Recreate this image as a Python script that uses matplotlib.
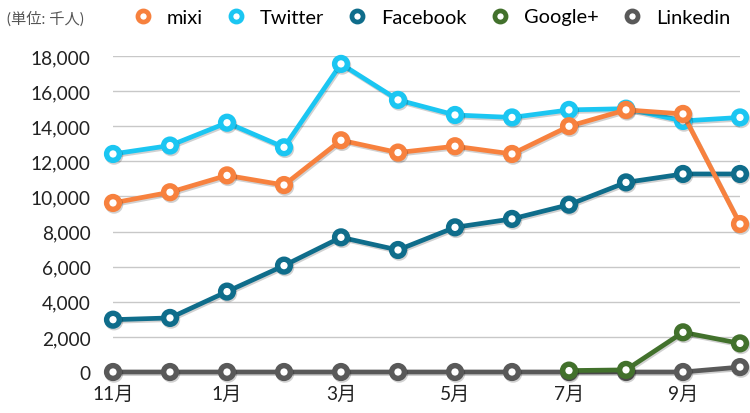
import matplotlib
matplotlib.use("Agg")
import matplotlib.pyplot as plt
from matplotlib.lines import Line2D
import matplotlib.patheffects as pe
import numpy as np

plt.rcParams['font.family'] = ['Lato', 'Noto Sans CJK JP', 'DejaVu Sans']

months = ["11月", "12月", "1月", "2月", "3月", "4月", "5月", "6月", "7月", "8月", "9月", "10月"]
tick_labels = ["11月", "", "1月", "", "3月", "", "5月", "", "7月", "", "9月", ""]

mixi = [9630, 10240, 11200, 10650, 13200, 12500, 12860, 12420, 14000, 14930, 14700, 8430]
twitter = [12420, 12900, 14200, 12800, 17550, 15500, 14640, 14500, 14930, 15000, 14300, 14500]
facebook = [2980, 3080, 4580, 6060, 7670, 6950, 8240, 8720, 9530, 10800, 11280, 11280]
googleplus = [None, None, None, None, None, None, None, None, 80, 120, 2260, 1630]
linkedin = [0, 0, 0, 0, 0, 0, 0, 0, 0, 0, 0, 280]

series = [
    ("mixi", mixi, "#F7813E"),
    ("Twitter", twitter, "#1BC6F2"),
    ("Facebook", facebook, "#0F6D8B"),
    ("Google+", googleplus, "#42712C"),
    ("Linkedin", linkedin, "#595959"),
]
draw_order = ["Linkedin", "Google+", "Facebook", "Twitter", "mixi"]

fig = plt.figure(figsize=(7.5, 4.14), dpi=100)
W, H = 750, 414
ax = fig.add_axes([113 / W, (H - 373) / H, (740 - 113) / W, (373 - 57) / H])

x = np.arange(len(months))
shadow = [pe.SimpleLineShadow(offset=(0.8, -1.2), shadow_color='black', alpha=0.18), pe.Normal()]
lookup = {n: (v, c) for n, v, c in series}
for z, name in enumerate(draw_order):
    vals, col = lookup[name]
    y = np.array([np.nan if v is None else v for v in vals], dtype=float)
    ax.plot(x, y, color=col, lw=3.4, marker='o', ms=9.2, mew=3.9,
            mfc='white', mec=col, clip_on=False, zorder=3 + z,
            path_effects=shadow)

ax.set_xlim(0, 11)
ax.set_ylim(0, 18000)
ax.set_yticks(np.arange(0, 18001, 2000))
ax.set_yticklabels([f"{v:,}" for v in range(0, 18001, 2000)], fontsize=13.8, color='#222222')
ax.set_xticks(x)
ax.set_xticklabels(tick_labels, fontsize=13.8, color='#222222')
ax.tick_params(axis='y', length=0, pad=16)
ax.tick_params(axis='x', length=0, pad=9)
ax.grid(axis='y', color='#c8c8c8', lw=1.0, zorder=0)
ax.set_axisbelow(True)
for s in ax.spines.values():
    s.set_visible(False)

fig.text(7 / W, 1 - 19 / H, "(単位: 千人)", fontsize=11, color='#555555', va='center', ha='left')

handles = [Line2D([], [], ls='none', marker='o', ms=8.0, mew=3.4, mfc='white', mec=c)
           for _, _, c in series]
labels = [n for n, _, _ in series]
fig.legend(handles, labels, loc='center left', bbox_to_anchor=(133 / W, 1 - 18 / H), ncol=5,
           frameon=False, fontsize=14.4, handletextpad=0.7, columnspacing=1.15,
           handlelength=1.0, borderpad=0, borderaxespad=0)

fig.savefig("out.png", dpi=100)
